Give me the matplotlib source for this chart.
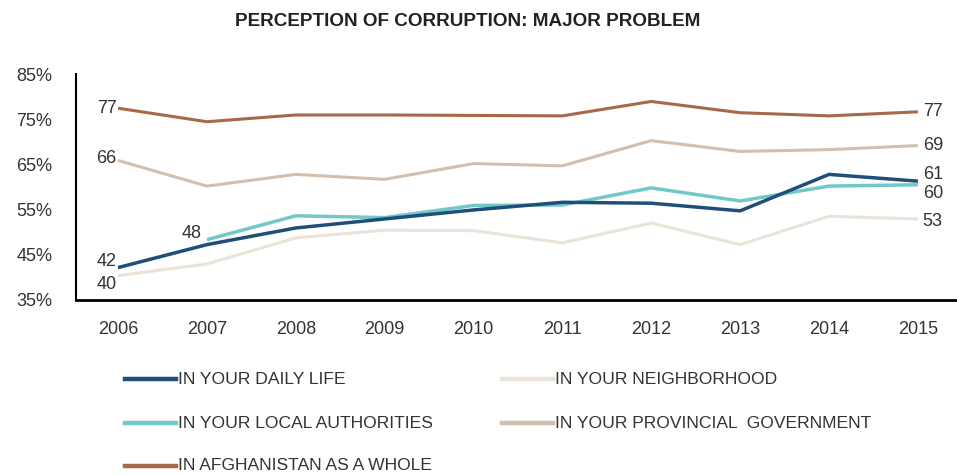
import matplotlib
matplotlib.use("Agg")
import matplotlib.pyplot as plt
from matplotlib.lines import Line2D

plt.rcParams["font.family"] = ["Liberation Sans", "DejaVu Sans"]

years = [2006, 2007, 2008, 2009, 2010, 2011, 2012, 2013, 2014, 2015]
daily_life = [42.2, 47.3, 51.0, 53.0, 55.0, 56.7, 56.5, 54.8, 62.9, 61.4]
neighborhood = [40.4, 43.0, 48.8, 50.5, 50.4, 47.7, 52.1, 47.3, 53.6, 53.0]
local_years = [2007, 2008, 2009, 2010, 2011, 2012, 2013, 2014, 2015]
local_auth = [48.4, 53.7, 53.3, 56.0, 56.1, 59.9, 57.0, 60.3, 60.6]
provincial = [66.0, 60.3, 62.9, 61.8, 65.3, 64.8, 70.4, 68.0, 68.4, 69.3]
afghanistan = [77.6, 74.6, 76.1, 76.1, 76.0, 75.9, 79.1, 76.6, 75.9, 76.8]

yticks = [35, 45, 55, 65, 75, 85]

C_DAILY = "#1f4e79"
C_LOCAL = "#72c8c8"
C_NEIGH = "#ebe3d9"
C_PROV = "#d3bfad"
C_AFG = "#a7694a"
TXT = "#333333"

W, H = 957, 475
fig = plt.figure(figsize=(W / 100, H / 100), dpi=100)
ax = fig.add_axes([76 / W, 1 - 300 / H, (W - 76) / W, (300 - 74) / H])

lw = 2.2
ax.plot(years, neighborhood, color=C_NEIGH, lw=lw, solid_capstyle="butt")
ax.plot(years, provincial, color=C_PROV, lw=lw, solid_capstyle="butt")
ax.plot(years, afghanistan, color=C_AFG, lw=lw, solid_capstyle="butt")
ax.plot(local_years, local_auth, color=C_LOCAL, lw=lw + 0.3, solid_capstyle="butt")
ax.plot(years, daily_life, color=C_DAILY, lw=lw + 0.3, solid_capstyle="butt")

ax.set_xlim(2005.527, 2015.44)
ax.set_ylim(35.6, 85.2)
ax.set_yticks(yticks)
ax.set_yticklabels([f"{v}%" for v in yticks])
ax.set_xticks(years)
ax.tick_params(length=0, labelsize=13, labelcolor=TXT)
ax.tick_params(axis="x", pad=15)
ax.tick_params(axis="y", pad=17)
ax.spines["top"].set_visible(False)
ax.spines["right"].set_visible(False)
ax.spines["left"].set_linewidth(1.5)
ax.spines["bottom"].set_linewidth(2.0)

# end labels
fs = 13
def label(x, y, s, dx, dy, ha):
    ax.annotate(s, (x, y), xytext=(dx, dy), textcoords="offset points",
                ha=ha, va="center", fontsize=fs, color=TXT)

label(years[0], afghanistan[0], "77", -1, 0, "right")
label(years[0], provincial[0], "66", -1, 1.5, "right")
label(years[0], daily_life[0], "42", -1, 4.3, "right")
label(years[0], neighborhood[0], "40", -1, -6.2, "right")
label(local_years[0], local_auth[0], "48", -4, 4.3, "right")
label(years[-1], afghanistan[-1], "77", 3.5, 0, "left")
label(years[-1], provincial[-1], "69", 3.5, 0, "left")
label(years[-1], daily_life[-1], "61", 3.5, 4.8, "left")
label(years[-1], local_auth[-1], "60", 3.5, -6.5, "left")
label(years[-1], neighborhood[-1], "53", 3.5, -1.5, "left")

fig.text(468 / W, 1 - 22 / H, "PERCEPTION OF CORRUPTION: MAJOR PROBLEM",
         ha="center", va="center", fontsize=13.6, fontweight="bold", color="#222222")

# legend
legend_items = [
    ("IN YOUR DAILY LIFE", C_DAILY, 125, 379),
    ("IN YOUR LOCAL AUTHORITIES", C_LOCAL, 125, 423),
    ("IN AFGHANISTAN AS A WHOLE", C_AFG, 125, 466),
    ("IN YOUR NEIGHBORHOOD", C_NEIGH, 502, 379),
    ("IN YOUR PROVINCIAL  GOVERNMENT", C_PROV, 502, 423),
]
for text, col, x0, y0 in legend_items:
    fig.add_artist(Line2D([x0 / W, (x0 + 51) / W], [1 - y0 / H, 1 - y0 / H],
                          transform=fig.transFigure, color=col, lw=3.2))
    fig.text((x0 + 53) / W, 1 - y0 / H, text, ha="left", va="center",
             fontsize=12.6, color=TXT)

fig.savefig("out.png", dpi=100)
